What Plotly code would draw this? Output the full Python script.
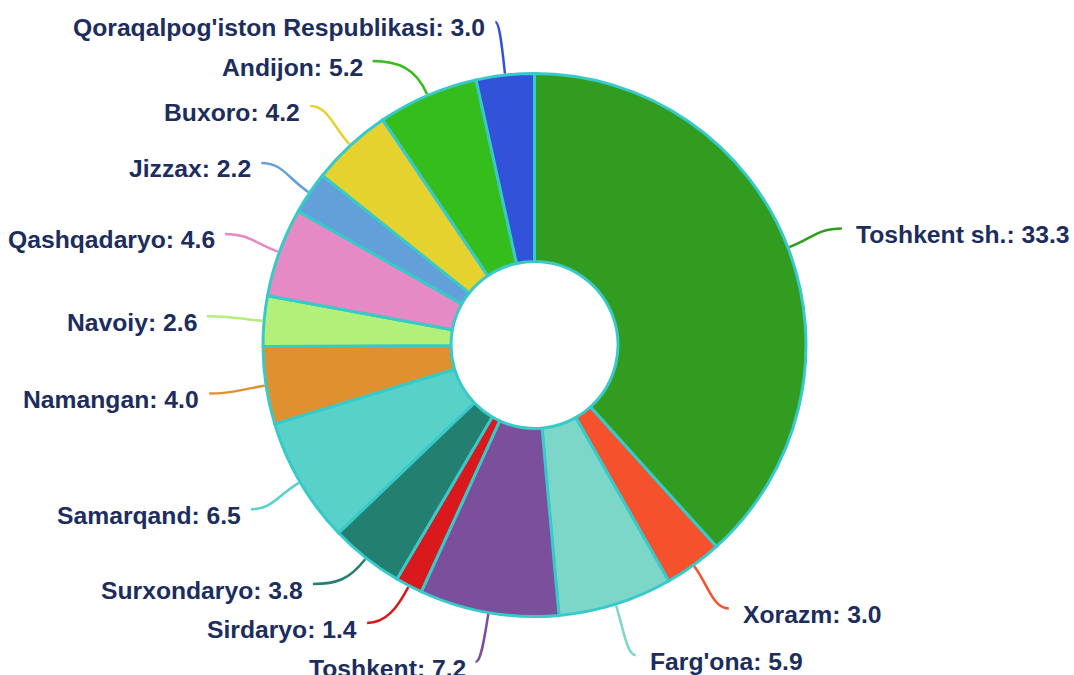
import math
import plotly.graph_objects as go

# ---------------- data ----------------
labels = ["Toshkent sh.", "Xorazm", "Farg'ona", "Toshkent", "Sirdaryo", "Surxondaryo",
          "Samarqand", "Namangan", "Navoiy", "Qashqadaryo", "Jizzax", "Buxoro",
          "Andijon", "Qoraqalpog'iston Respublikasi"]
values = [33.3, 3.0, 5.9, 7.2, 1.4, 3.8, 6.5, 4.0, 2.6, 4.6, 2.2, 4.2, 5.2, 3.0]
colors = ["#319c1f", "#f5512d", "#7dd7c8", "#7c4f9c", "#d9191c", "#237f70",
          "#58d1c9", "#e0912f", "#b3f07a", "#e58ac4", "#63a0d9", "#e6d22f",
          "#34bd1b", "#3253d9"]

# ---------------- layout parameters (pixels) ----------------
W, H = 1074, 675
CX, CY = 534.5, 345.0
R = 271.5            # fill radius of the pie
BORDER = 3
HOLE_R = 83.5
LEN1 = 52            # radial label-line length from visual edge
LEN2 = 4             # horizontal label-line length
GAP = 39             # min vertical spacing of labels
TOP, BOTTOM = 22, 662
TEXT_DY = 6
TEXT_GAP_L, TEXT_GAP_R = 10, 14
BORDER_COLOR = "#38c9c9"
TEXT_COLOR = "#1c2d5e"
FONT_SIZE = 24.7


def px(x):
    return x / W


def py(y):
    return 1 - y / H


# ---------------- geometry of slices ----------------
total = sum(values)
R_edge = R + BORDER / 2
R1 = R_edge + LEN1
items = []
cum = 0.0
for i, v in enumerate(values):
    mid = cum + v / 2
    cum += v
    th = 2 * math.pi * mid / total
    s, c = math.sin(th), math.cos(th)
    items.append(dict(i=i, s=s, c=c,
                      x1=CX + R_edge * s, y1=CY - R_edge * c,
                      y0=CY - R1 * c, x20=CX + R1 * s,
                      dir=1 if s >= 0 else -1))


def spread(group):
    """Isotonic (pool-adjacent-violators) label spreading with bounds."""
    group.sort(key=lambda d: d["y0"])
    n = len(group)
    targets = [d["y0"] - k * GAP for k, d in enumerate(group)]
    blocks = []  # [value, weight, count]
    for t in targets:
        blocks.append([t, 1, 1])
        while len(blocks) > 1 and blocks[-2][0] > blocks[-1][0]:
            v2, w2, c2 = blocks.pop()
            v1, w1, c1 = blocks.pop()
            blocks.append([(v1 * w1 + v2 * w2) / (w1 + w2), w1 + w2, c1 + c2])
    w = []
    for v, _, cnt in blocks:
        w += [v] * cnt
    lo, hi = TOP, BOTTOM - (n - 1) * GAP
    for k, d in enumerate(group):
        d["y"] = min(max(w[k], lo), hi) + k * GAP


for side in (1, -1):
    grp = [d for d in items if d["dir"] == side]
    spread(grp)
    # align x on a semi-ellipse (top / bottom halves)
    for semi in (True, False):
        sub = [d for d in grp if (d["y"] < CY) == semi]
        if not sub:
            continue
        ext = max(sub, key=lambda d: abs(d["y"] - CY))
        dy = abs(ext["y"] - CY)
        dx = ext["x20"] - CX
        rB = dy / math.sqrt(max(1 - dx * dx / (R1 * R1), 1e-6)) if abs(dx) < R1 else R1
        rB = max(rB, dy)
        for d in sub:
            ddy = abs(d["y"] - CY)
            d["x2"] = CX + side * math.sqrt(max(1 - ddy * ddy / (rB * rB), 0)) * R1
            d["x3"] = d["x2"] + side * LEN2

# ---------------- figure ----------------
fig = go.Figure()
fig.add_trace(go.Pie(
    labels=labels, values=values, sort=False, direction="clockwise", rotation=0,
    hole=HOLE_R / R,
    marker=dict(colors=colors, line=dict(color=BORDER_COLOR, width=BORDER)),
    textinfo="none", hoverinfo="label+value", showlegend=False,
    domain=dict(x=[px(CX - R), px(CX + R)], y=[py(CY + R), py(CY - R)]),
))

shapes = []
annotations = []
for d in items:
    x1, y1, x3, y3, sd = d["x1"], d["y1"], d["x3"], d["y"], d["dir"]
    D = math.hypot(x3 - x1, y3 - y1)
    a = 0.45 * D
    b = 0.45 * abs(x3 - x1)
    c1x, c1y = x1 + d["s"] * a, y1 - d["c"] * a
    c2x, c2y = x3 - sd * b, y3
    path = (f"M {px(x1):.5f},{py(y1):.5f} C {px(c1x):.5f},{py(c1y):.5f} "
            f"{px(c2x):.5f},{py(c2y):.5f} {px(x3):.5f},{py(y3):.5f}")
    shapes.append(dict(type="path", path=path, xref="paper", yref="paper",
                       line=dict(color=colors[d["i"]], width=2.5), layer="above"))
    tx = x3 + (TEXT_GAP_R if sd > 0 else -TEXT_GAP_L) * sd * sd
    annotations.append(dict(
        x=px(tx), y=py(y3 + TEXT_DY), xref="paper", yref="paper",
        text=f"{labels[d['i']]}: {values[d['i']]:.1f}", showarrow=False,
        xanchor="left" if sd > 0 else "right", yanchor="middle",
        borderpad=0, borderwidth=0,
        font=dict(family="Liberation Sans, Arial, sans-serif", size=FONT_SIZE,
                  color=TEXT_COLOR, weight="bold"),
    ))

fig.update_layout(
    width=W, height=H, margin=dict(l=0, r=0, t=0, b=0),
    paper_bgcolor="white", plot_bgcolor="white",
    shapes=shapes, annotations=annotations, showlegend=False,
)

fig.write_html("out.html",
               config={"displayModeBar": False},
               post_script="document.body.style.margin='0';"
                           "document.body.style.overflow='hidden';")
